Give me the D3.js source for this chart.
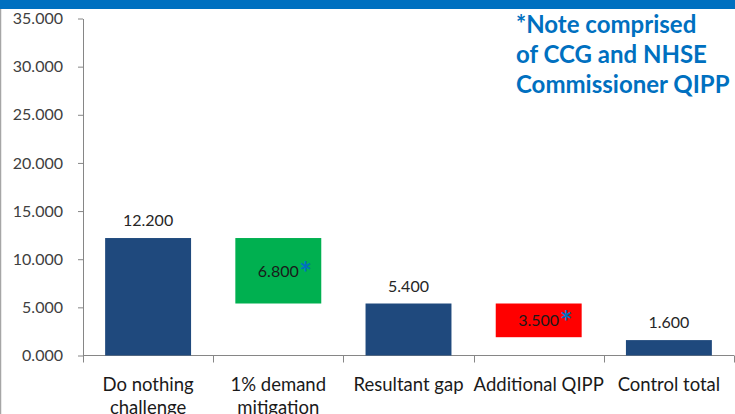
<!DOCTYPE html>
<html>
<head>
<meta charset="utf-8">
<script src="https://cdn.jsdelivr.net/npm/d3@7"></script>
<style>
  html, body { margin: 0; padding: 0; background: #fff; }
  svg { display: block; }
</style>
</head>
<body>
<svg id="chart" width="735" height="414"></svg>
<script>
// Waterfall: challenge, mitigations and resulting totals (£m)
const categories = [["Do nothing", "challenge"], ["1% demand", "mitigation"], ["Resultant gap"], ["Additional QIPP"], ["Control total"]];
const values = [12.2, 6.8, 5.4, 3.5, 1.6];
const kinds = ["total", "decrease", "total", "decrease", "total"];
const yTicks = [0, 5, 10, 15, 20, 25, 30, 35];
const noteLines = ["*Note comprised", "of CCG and NHSE", "Commissioner QIPP"];

const colors = { total: "#1F497D", decrease: ["#00B050", "#FF0000"] };
const font = "Lato, 'Open Sans', sans-serif";

const svg = d3.select("#chart");
const W = 735, H = 414;

// slide chrome: top band and left edge
svg.append("rect").attr("x", 0).attr("y", 0).attr("width", W).attr("height", 9).attr("fill", "#0070C0");
svg.append("line").attr("x1", 0.5).attr("x2", 0.5).attr("y1", 9).attr("y2", H)
  .attr("stroke", "#A6A6A6").attr("stroke-width", 1.5);

const keys = categories.map((c, i) => i);
const x = d3.scaleBand().domain(keys).range([83, 734]).paddingInner(0.34).paddingOuter(0.17);
const y = d3.scaleLinear().domain([0, 35]).range([355.5, 18.5]);

// compute floating spans
let running = 0, dec = 0;
const bars = values.map((v, i) => {
  let lo, hi, color;
  if (kinds[i] === "total") {
    lo = 0; hi = v; running = v; color = colors.total;
  } else {
    hi = running; lo = running - v; color = colors.decrease[dec++];
  }
  return { i, v, lo, hi, kind: kinds[i], color };
});

// y axis
const yAxis = d3.axisLeft(y).tickValues(yTicks).tickFormat(d3.format(".3f")).tickSizeInner(5).tickSizeOuter(0).tickPadding(15);
const gy = svg.append("g").attr("transform", "translate(83,0)").call(yAxis);
gy.select(".domain").attr("stroke", "#868686");
gy.selectAll(".tick line").attr("stroke", "#868686");
gy.selectAll(".tick text").attr("fill", "#404040").style("font-family", font).style("font-size", "16px");

// x axis line with category boundary ticks
const gx = svg.append("g");
gx.append("line").attr("x1", 83).attr("x2", 734).attr("y1", y(0)).attr("y2", y(0)).attr("stroke", "#868686");
const bounds = keys.map(k => x(k) - x.step() * x.paddingInner() / 2).concat([734]);
bounds[0] = 83;
gx.selectAll("line.tk").data(bounds).join("line").attr("class", "tk")
  .attr("x1", d => Math.round(d) + 0.5).attr("x2", d => Math.round(d) + 0.5)
  .attr("y1", y(0)).attr("y2", y(0) + 7).attr("stroke", "#868686");

// bars
svg.append("g").selectAll("rect").data(bars).join("rect")
  .attr("x", d => x(d.i)).attr("width", x.bandwidth())
  .attr("y", d => y(d.hi)).attr("height", d => y(d.lo) - y(d.hi))
  .attr("fill", d => d.color);

const fmt = d3.format(".3f");
const cx = d => x(d.i) + x.bandwidth() / 2;

// value labels above totals
svg.append("g").selectAll("text").data(bars.filter(d => d.kind === "total")).join("text")
  .attr("x", cx).attr("y", d => y(d.hi) - 12)
  .attr("text-anchor", "middle").attr("fill", "#262626")
  .style("font-family", font).style("font-size", "16px")
  .text(d => fmt(d.v));

// value labels inside decreases, with note marker
const dl = svg.append("g").selectAll("g").data(bars.filter(d => d.kind === "decrease")).join("g");
dl.append("text")
  .attr("x", cx).attr("y", d => y((d.hi + d.lo) / 2) + 6)
  .attr("text-anchor", "middle").attr("fill", "#1a1a1a")
  .style("font-family", font).style("font-size", "16px")
  .text(d => fmt(d.v));
dl.append("text")
  .attr("x", d => cx(d) + 21).attr("y", d => y((d.hi + d.lo) / 2) + 13)
  .attr("fill", "#0070C0").style("font-family", font).style("font-weight", "bold").style("font-size", "30px")
  .text("*");

// category labels
const cl = svg.append("g").selectAll("text").data(categories).join("text")
  .attr("text-anchor", "middle").attr("fill", "#1a1a1a")
  .style("font-family", font).style("font-size", "18.5px")
  .attr("x", (d, i) => x(i) + x.bandwidth() / 2).attr("y", 390.5);
cl.selectAll("tspan").data(d => d).join("tspan")
  .attr("x", function () { return d3.select(this.parentNode).attr("x"); })
  .attr("dy", (d, j) => j === 0 ? 0 : 23)
  .text(d => d);

// note
svg.append("g").selectAll("text").data(noteLines).join("text")
  .attr("x", 516).attr("y", (d, i) => 33 + i * 30)
  .attr("fill", "#0070C0").style("font-family", font).style("font-weight", "bold").style("font-size", "24px")
  .text(d => d);
</script>
</body>
</html>
